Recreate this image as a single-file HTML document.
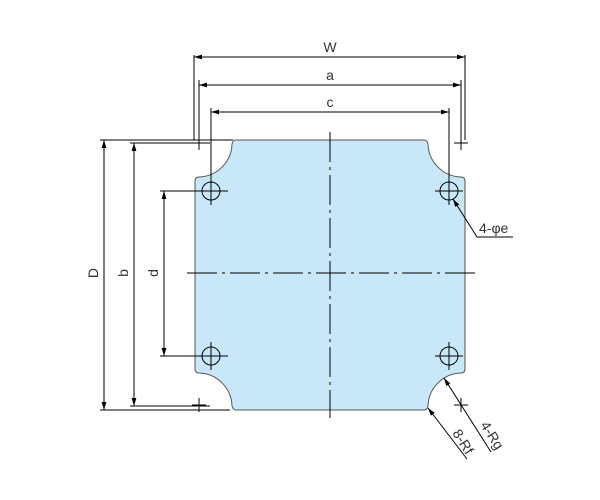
<!DOCTYPE html>
<html><head><style>body{margin:0;background:#fff}svg{display:block}text{font-family:"Liberation Sans",sans-serif;font-size:14px;fill:#333}</style></head><body>
<svg width="600" height="500" viewBox="0 0 600 500">
<defs><marker id="ar" viewBox="0 0 10 6" refX="10" refY="3" markerWidth="8" markerHeight="5" orient="auto-start-reverse"><path d="M0,0 L10,3 L0,6 Z" fill="#000"/></marker></defs>
<path d="M236,140 H424 Q427,140 428,144 A34,34 0 0 0 461,177 Q465,177 465,181 V369 Q465,373 461,373 A34,34 0 0 0 428,406 Q427,410 424,410 H236 Q233,410 232,406 A34,34 0 0 0 199,373 Q195,373 195,369 V181 Q195,177 199,177 A34,34 0 0 0 232,144 Q233,140 236,140 Z" fill="#c8e8f9" stroke="#555" stroke-width="1"/>
<g stroke="#000" stroke-width="1" fill="none">
<line x1="330" y1="132" x2="330" y2="418" stroke-dasharray="30,5,3,5"/>
<line x1="187" y1="273" x2="475" y2="273" stroke-dasharray="30,5,3,5"/>
<circle cx="211" cy="191" r="9"/><circle cx="449" cy="191" r="9"/><circle cx="211" cy="356" r="9"/><circle cx="449" cy="356" r="9"/>
<path d="M197,191H225M211,177V205M435,191H463M449,177V205M197,356H225M211,342V370M435,356H463M449,342V370"/>
<path d="M194,55V140M199,80V150M211,108V200M465,55V140M461,80V150M449,108V200"/>
<path d="M192,143H206M192,405H206M454,143H468M454,405H468M461,136V150M461,398V412M199,398V412"/>
<path d="M100,140H233M130,143H210M160,191H228M160,356H228M130,406H210M100,410H230"/>
<line x1="194" y1="57" x2="465" y2="57" marker-start="url(#ar)" marker-end="url(#ar)"/>
<line x1="199" y1="85" x2="461" y2="85" marker-start="url(#ar)" marker-end="url(#ar)"/>
<line x1="211" y1="112" x2="449" y2="112" marker-start="url(#ar)" marker-end="url(#ar)"/>
<line x1="104" y1="140" x2="104" y2="410" marker-start="url(#ar)" marker-end="url(#ar)"/>
<line x1="134" y1="143" x2="134" y2="406" marker-start="url(#ar)" marker-end="url(#ar)"/>
<line x1="164" y1="191" x2="164" y2="356" marker-start="url(#ar)" marker-end="url(#ar)"/>
<polyline points="513,237 477,237 453,199" marker-end="url(#ar)"/>
<line x1="467" y1="459" x2="428" y2="408" marker-end="url(#ar)"/>
<line x1="491" y1="452" x2="444" y2="378" marker-end="url(#ar)"/>
</g>
<text x="330" y="52" text-anchor="middle">W</text>
<text x="330" y="80" text-anchor="middle">a</text>
<text x="330" y="107" text-anchor="middle">c</text>
<text transform="translate(98,273) rotate(-90)" text-anchor="middle">D</text>
<text transform="translate(128,273) rotate(-90)" text-anchor="middle">b</text>
<text transform="translate(158,273) rotate(-90)" text-anchor="middle">d</text>
<text x="479" y="233">4-φe</text>
<text transform="translate(452,433) rotate(58)">8-Rf</text>
<text transform="translate(480,425) rotate(58)">4-Rg</text>
</svg>
</body></html>
